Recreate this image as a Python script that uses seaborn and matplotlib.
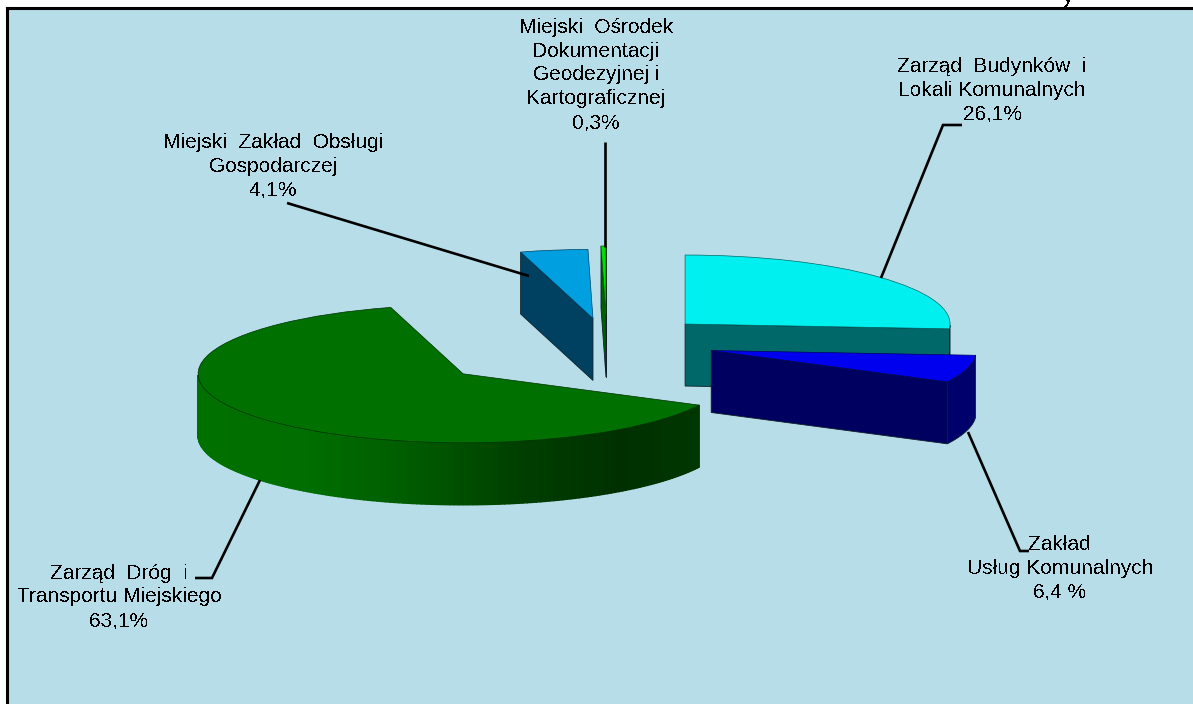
import matplotlib
matplotlib.use("Agg")
import matplotlib.pyplot as plt
import numpy as np
import seaborn as sns

# udzial jednostek w wydatkach (%)
jednostki = ["Zarząd  Budynków  i\nLokali Komunalnych",
             "Zakład\nUsług Komunalnych",
             "Zarząd  Dróg  i\nTransportu Miejskiego",
             "Miejski  Zakład  Obsługi\nGospodarczej",
             "Miejski  Ośrodek\nDokumentacji\nGeodezyjnej i\nKartograficznej"]
udzial = [26.1, 6.4, 63.1, 4.1, 0.3]
etykiety = ["26,1%", "6,4 %", "63,1%", "4,1%", "0,3%"]

kolory_gora = ["#00f0f0", "#0000ee", "#007000", "#00a0e0", "#00e000"]
kolory_ciecia = ["#006868", "#000060", "#003000", "#004060", "#006000"]
kolory_boku = ["#006868", "#00006c", None, "#004060", "#006000"]
wysuniecie = [0.403, 0.408, 0.703, 0.36, 0.406]

SZER, WYS = 1193, 704
CX, CY, RX, RY = 607, 343, 265, 69
GLEBOKOSC = 62 / RY

sns.set_theme(style="white")
plt.rcParams["font.family"] = ["Liberation Sans", "DejaVu Sans"]
plt.rcParams["text.antialiased"] = False

fig = plt.figure(figsize=(SZER / 100, WYS / 100), dpi=100, facecolor="white")

# tlo z ramka (tylko gora i lewa strona)
bg = fig.add_axes([7 / SZER, 0, 1 - 7 / SZER, 1 - 8 / WYS], facecolor="#b7dde8")
bg.set_xticks([])
bg.set_yticks([])
for s in ["right", "bottom"]:
    bg.spines[s].set_visible(False)
for s in ["top", "left"]:
    bg.spines[s].set_color("black")
    bg.spines[s].set_linewidth(2.2)

ax = fig.add_axes([0, 0, 1, 1], facecolor="none")
wedges, _ = ax.pie(udzial, explode=wysuniecie, colors=kolory_gora, startangle=90,
                   counterclock=False, radius=1)
ax.set_aspect("auto")
ax.set_xlim(-CX / RX, (SZER - CX) / RX)
ax.set_ylim((CY - WYS) / RY, CY / RY)

gradient = sns.blend_palette(["#007000", "#006e00", "#005c00", "#004000", "#003000", "#003800"], 70)


def punkt(w, kat):
    return (w.center[0] + np.cos(np.radians(kat)), w.center[1] + np.sin(np.radians(kat)))


def sciana(xs, ys, kolor, z, krawedz=True):
    xs = np.asarray(xs)
    ys = np.asarray(ys)
    px = np.concatenate([xs, xs[::-1]])
    py = np.concatenate([ys, ys[::-1] - GLEBOKOSC])
    ax.fill(px, py, color=kolor, zorder=z, lw=0.6 if krawedz else 1.0,
            ec="#10202a" if krawedz else kolor)


# kolejnosc rysowania: od tylu do przodu
kolejnosc = {4: 2, 3: 3, 0: 4, 2: 5, 1: 6}
for i, w in enumerate(wedges):
    z = kolejnosc[i] * 10
    koniec, start = w.theta1, w.theta2  # zgodnie ze wskazowkami: start -> koniec
    w.set_zorder(z + 5)
    w.set_edgecolor(kolory_ciecia[i])
    w.set_linewidth(0.5)

    # sciany ciecia widoczne od przodu
    for kat, widoczna in [(koniec, np.cos(np.radians(koniec)) > 0),
                          (start, np.cos(np.radians(start)) < 0)]:
        if widoczna:
            x, y = punkt(w, kat)
            sciana([w.center[0], x], [w.center[1], y], kolory_ciecia[i], z + 1)

    # zewnetrzna sciana, tylko dolna czesc luku
    katy = np.arange(np.floor(koniec), np.ceil(start) + 1)
    katy = np.clip(katy, koniec, start)
    k = np.mod(katy, 360)
    katy = katy[(k > 180) & (k < 360)]
    if len(katy) < 2:
        continue
    if kolory_boku[i] is None:
        # gradient pasami od lewej do prawej
        for a0, a1 in zip(katy[:-1], katy[1:]):
            a = np.array([a0, a1])
            wart = (np.cos(np.radians(a.mean())) + 1) / 2
            kolor = gradient[min(int(wart * len(gradient)), len(gradient) - 1)]
            sciana(w.center[0] + np.cos(np.radians(a)), w.center[1] + np.sin(np.radians(a)),
                   kolor, z + 2, krawedz=False)
    else:
        sciana(w.center[0] + np.cos(np.radians(katy)), w.center[1] + np.sin(np.radians(katy)),
               kolory_boku[i], z + 2)

# warstwa opisow w pikselach
nak = fig.add_axes([0, 0, 1, 1], facecolor="none")
nak.set_xlim(0, SZER)
nak.set_ylim(WYS, 0)
nak.axis("off")

pozycje = [(992, 90), (1060, 568), (119, 597), (273, 166), (596, 75)]
for nazwa, et, (x, y) in zip(jednostki, etykiety, pozycje):
    nak.text(x, y, nazwa + "\n" + et, ha="center", va="center", fontsize=15,
             color="black", linespacing=1.32)

linie = [([962, 943, 881], [125, 125, 278]),
         ([968, 1020, 1029], [432, 551, 551]),
         ([260, 212, 195], [480, 578, 578]),
         ([287, 529], [203, 276]),
         ([605, 605], [142, 247])]
for xs, ys in linie:
    nak.plot(xs, ys, color="black", lw=1.9, solid_capstyle="butt", solid_joinstyle="miter")

# obciety tekst nad ramka
nak.text(1068, 3, "y", ha="center", va="baseline", fontsize=15, color="black", clip_on=False)

fig.savefig("out.png", dpi=100, facecolor="white")
